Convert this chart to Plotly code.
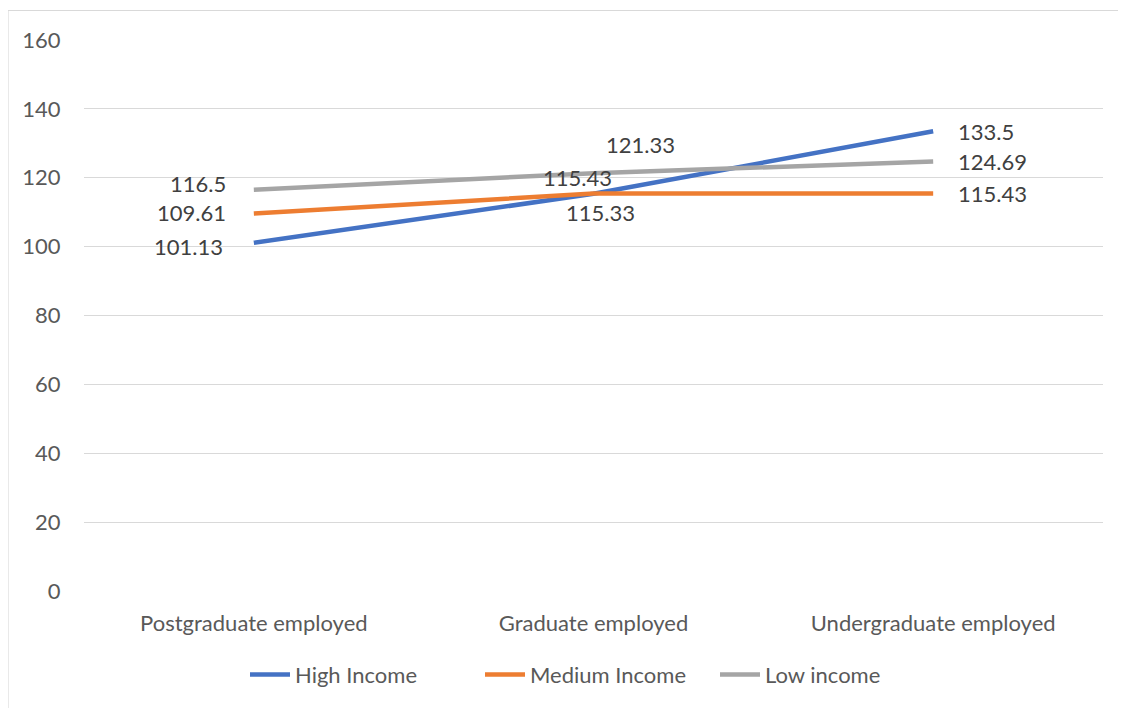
import plotly.graph_objects as go

categories = ["Postgraduate employed", "Graduate employed", "Undergraduate employed"]
high_income = [101.13, 115.33, 133.5]
medium_income = [109.61, 115.43, 115.43]
low_income = [116.5, 121.33, 124.69]
y_ticks = [0, 20, 40, 60, 80, 100, 120, 140, 160]

series = [
    ("High Income", high_income, "#4472C4"),
    ("Medium Income", medium_income, "#ED7D31"),
    ("Low income", low_income, "#A5A5A5"),
]

# label placement (xanchor, xshift, yshift) per series per point
label_style = {
    "High Income": [("right", -29, -4), ("center", 7, -19), ("left", 23, 0)],
    "Medium Income": [("right", -26, 1), ("center", -16, 16), ("left", 23, 0)],
    "Low income": [("right", -26, 6), ("center", 47, 29), ("left", 23, 0)],
}

FONT = "Lato, Calibri, Carlito, sans-serif"
TXT = "#595959"
FS = 22

fig = go.Figure()
annotations = []
for name, vals, color in series:
    fig.add_trace(go.Scatter(
        x=categories, y=vals, mode="lines", name=name,
        line=dict(color=color, width=4.5),
    ))
    for i, (c, v) in enumerate(zip(categories, vals)):
        xa, xs, ys = label_style[name][i]
        annotations.append(dict(
            x=c, y=v, xref="x", yref="y", text=f"{v:g}", showarrow=False,
            xanchor=xa, yanchor="middle", xshift=xs, yshift=ys,
            font=dict(family=FONT, size=FS, color="#404040"),
        ))

fig.update_layout(
    width=1118, height=700,
    margin=dict(l=76, r=23, t=32, b=117),
    paper_bgcolor="white", plot_bgcolor="white",
    font=dict(family=FONT, size=FS, color=TXT),
    showlegend=True,
    legend=dict(orientation="h", x=0.158, xanchor="left", y=-0.152, yanchor="middle",
                font=dict(family=FONT, size=FS, color=TXT), itemwidth=40,
                entrywidth=180, entrywidthmode="pixels",
                traceorder="normal"),
    annotations=annotations,
    shapes=[dict(type="rect", xref="paper", yref="paper",
                 x0=-0.0746, x1=1.03, y0=-0.23, y1=1.0535,
                 line=dict(color="#D9D9D9", width=1.2), layer="below")],
)
fig.update_xaxes(
    type="category", range=[-0.5, 2.5], showgrid=False, zeroline=False,
    showline=False, ticks="outside", ticklen=13, tickcolor="rgba(0,0,0,0)",
    tickfont=dict(family=FONT, size=FS, color=TXT),
)
fig.update_yaxes(
    range=[0, 160], tickvals=y_ticks, showgrid=True, gridcolor="#D9D9D9", gridwidth=1.2,
    zeroline=False, showline=False, ticks="outside", ticklen=18,
    tickcolor="rgba(0,0,0,0)", tickfont=dict(family=FONT, size=FS, color=TXT),
)

fig.write_html("out.html")
